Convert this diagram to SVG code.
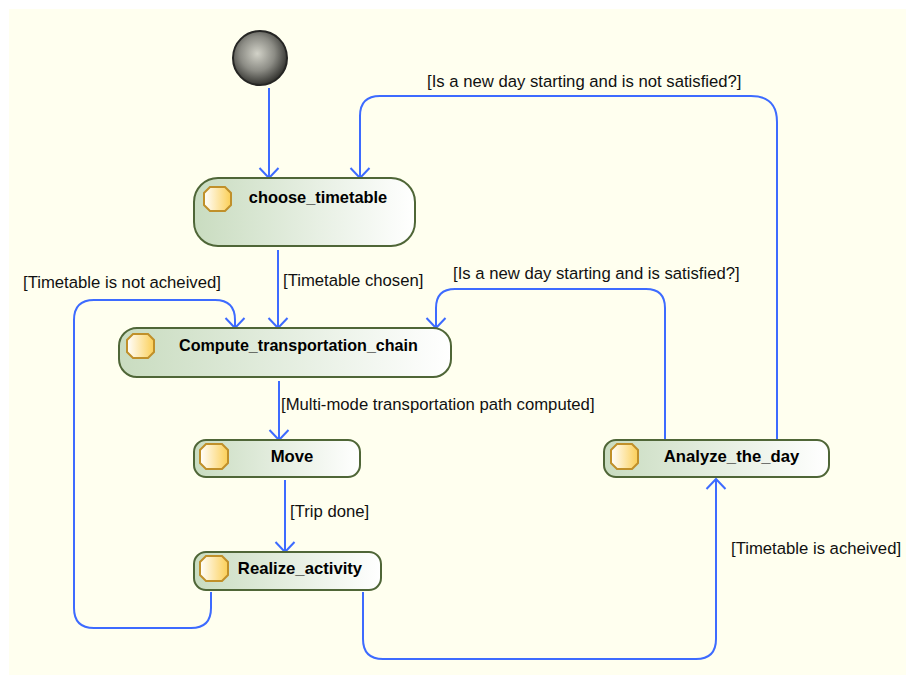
<svg xmlns="http://www.w3.org/2000/svg" width="906" height="675" viewBox="0 0 906 675">
<defs>
<linearGradient id="g" x1="0" y1="0" x2="1" y2="0"><stop offset="0" stop-color="#c9dcc0"/><stop offset="1" stop-color="#ffffff"/></linearGradient>
<linearGradient id="o" x1="0" y1="0" x2="1" y2="0"><stop offset="0" stop-color="#ffffff"/><stop offset="1" stop-color="#fbcf57"/></linearGradient>
<radialGradient id="b" cx="0.45" cy="0.42" r="0.58"><stop offset="0" stop-color="#d2d2c8"/><stop offset="0.55" stop-color="#8c8c85"/><stop offset="1" stop-color="#33332f"/></radialGradient>
<marker id="a" markerUnits="userSpaceOnUse" markerWidth="24" markerHeight="16" refX="11" refY="8" orient="auto" overflow="visible"><path d="M1 -1.5 L11 8 L1 17.5" fill="none" stroke="#3d6bff" stroke-width="2"/></marker>
<style>
.n{stroke:#4f6637;stroke-width:2;fill:url(#g)}
.i{stroke:#c0902a;stroke-width:2;fill:url(#o)}
.c{fill:none;stroke:#3d6bff;stroke-width:2}
text{font-family:"Liberation Sans",Arial,sans-serif;font-size:16.7px;fill:#111}
.t{font-weight:bold;text-anchor:middle;fill:#000}
</style>
</defs>
<rect width="906" height="675" fill="#ffffff"/>
<rect x="9" y="9" width="897" height="666" fill="#ffffef"/>
<g id="connectors">
<path class="c" marker-end="url(#a)" d="M269 88V178"/>
<path class="c" marker-end="url(#a)" d="M777 440V122Q777 96 751 96H380Q360 96 360 116V178"/>
<path class="c" marker-end="url(#a)" d="M278 250V328"/>
<path class="c" marker-end="url(#a)" d="M211 592V608Q211 628 191 628H94Q74 628 74 608V320Q74 300 94 300H215Q235 300 235 320V328"/>
<path class="c" marker-end="url(#a)" d="M665 440V308Q665 289 646 289H455Q436 289 436 308V328"/>
<path class="c" marker-end="url(#a)" d="M279 381V440"/>
<path class="c" marker-end="url(#a)" d="M285 480V552"/>
<path class="c" marker-end="url(#a)" d="M363 592V639Q363 659 383 659H696Q716 659 716 639V479"/>
</g>
<g id="initial"><circle cx="260" cy="58" r="27" fill="url(#b)" stroke="#262624" stroke-width="2"/></g>
<g id="choose_timetable"><rect class="n" x="194" y="178" width="221" height="68" rx="24"/><path class="i" d="M210 187H225L231 193V205L225 211H210L204 205V193Z"/><text class="t" x="318" y="203" style="font-size:16.4px">choose_timetable</text></g>
<g id="compute"><rect class="n" x="119" y="328" width="332" height="49" rx="18"/><path class="i" d="M133 334H148L154 340V352L148 358H133L127 352V340Z"/><text class="t" x="298.500" y="351" style="font-size:16.1px">Compute_transportation_chain</text></g>
<g id="move"><rect class="n" x="194" y="440" width="166" height="37" rx="12"/><path class="i" d="M206 444H222L228 450V463L222 469H206L200 463V450Z"/><text class="t" x="292" y="462">Move</text></g>
<g id="realize"><rect class="n" x="194" y="552" width="187" height="38" rx="12"/><path class="i" d="M206 556H222L228 562V575L222 581H206L200 575V562Z"/><text class="t" x="300" y="574">Realize_activity</text></g>
<g id="analyze"><rect class="n" x="604" y="440" width="225" height="37" rx="12"/><path class="i" d="M617 444H632L638 450V463L632 469H617L611 463V450Z"/><text class="t" x="731.500" y="462">Analyze_the_day</text></g>
<g id="labels">
<text x="427" y="87">[Is a new day starting and is not satisfied?]</text>
<text x="453" y="279">[Is a new day starting and is satisfied?]</text>
<text x="283" y="286">[Timetable chosen]</text>
<text x="23" y="288">[Timetable is not acheived]</text>
<text x="281" y="410">[Multi-mode transportation path computed]</text>
<text x="290" y="517">[Trip done]</text>
<text x="731" y="554">[Timetable is acheived]</text>
</g>
</svg>
